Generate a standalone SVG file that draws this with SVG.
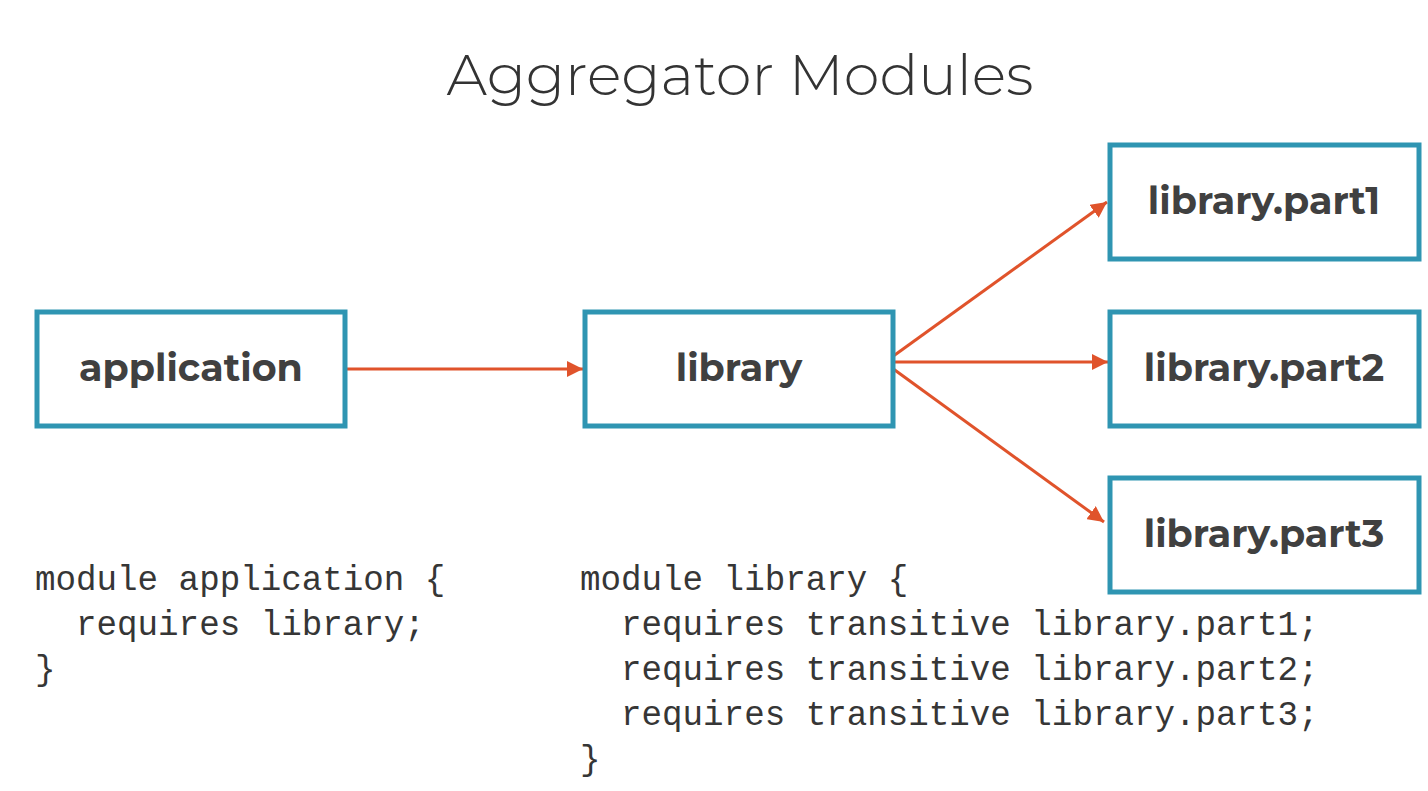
<svg xmlns="http://www.w3.org/2000/svg" width="1428" height="791" viewBox="0 0 1428 791">
<style>
.box{fill:#fff;stroke:#2f95b2;stroke-width:5}
.lbl{font-family:"Montserrat","Lato","Open Sans",sans-serif;font-weight:700;font-size:38px;fill:#404040;text-anchor:middle}
.edge{stroke:#e0532b;stroke-width:3;fill:none}
.code{font-family:"Liberation Mono","DejaVu Sans Mono",monospace;font-size:34.2px;fill:#363636;white-space:pre}
.title{font-family:"Montserrat","Lato","Open Sans",sans-serif;font-weight:300;font-size:57.5px;fill:#333;text-anchor:middle}
</style>
<defs>
<marker id="arr" viewBox="0 0 12 12" refX="12" refY="6" markerWidth="16" markerHeight="16" markerUnits="userSpaceOnUse" orient="auto">
<path d="M0,0 L12,6 L0,12 z" fill="#e0532b"/>
</marker>
</defs>
<rect width="1428" height="791" fill="#fff"/>
<text class="title" x="740" y="95">Aggregator Modules</text>
<g id="connectors">
<line class="edge" x1="347" y1="369" x2="583" y2="369" marker-end="url(#arr)"/>
<line class="edge" x1="892" y1="357" x2="1107" y2="202" marker-end="url(#arr)"/>
<line class="edge" x1="892" y1="362" x2="1108" y2="362" marker-end="url(#arr)"/>
<line class="edge" x1="892" y1="368" x2="1104" y2="522" marker-end="url(#arr)"/>
</g>
<g id="application">
<rect class="box" x="37" y="312" width="308" height="114"/>
<text class="lbl" x="191" y="381">application</text>
</g>
<g id="library">
<rect class="box" x="585" y="312" width="308" height="114"/>
<text class="lbl" x="739" y="381">library</text>
</g>
<g id="part1">
<rect class="box" x="1110" y="145" width="309" height="114"/>
<text class="lbl" x="1264" y="214">library.part1</text>
</g>
<g id="part2">
<rect class="box" x="1110" y="312" width="309" height="114"/>
<text class="lbl" x="1264" y="381">library.part2</text>
</g>
<g id="part3">
<rect class="box" x="1110" y="478" width="309" height="114"/>
<text class="lbl" x="1264" y="547">library.part3</text>
</g>
<g id="code-application">
<text class="code" x="35" y="590">module application {</text>
<text class="code" x="35" y="635">  requires library;</text>
<text class="code" x="35" y="680">}</text>
</g>
<g id="code-library">
<text class="code" x="580" y="590">module library {</text>
<text class="code" x="580" y="635">  requires transitive library.part1;</text>
<text class="code" x="580" y="680">  requires transitive library.part2;</text>
<text class="code" x="580" y="725">  requires transitive library.part3;</text>
<text class="code" x="580" y="770">}</text>
</g>
</svg>
